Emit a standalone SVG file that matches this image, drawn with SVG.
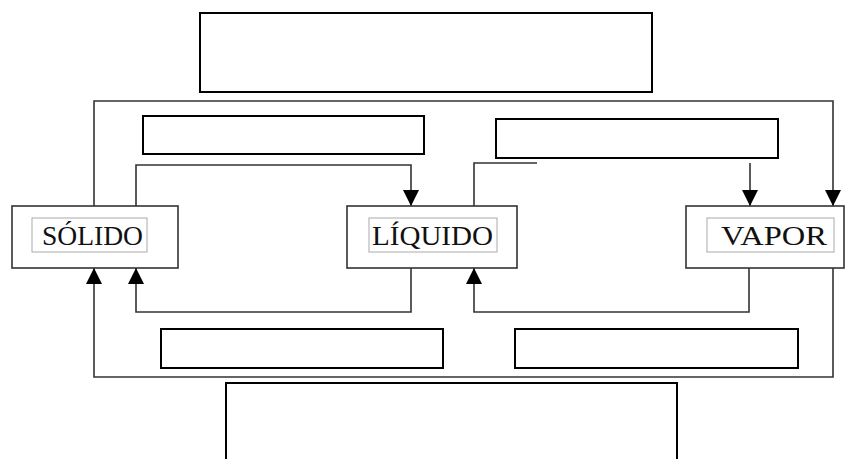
<svg xmlns="http://www.w3.org/2000/svg" width="846" height="459" viewBox="0 0 846 459">
<style>
.node{fill:#fff;stroke:#333;stroke-width:1.6}
.blank{fill:#fff;stroke:#000;stroke-width:2}
.inner{fill:#fff;stroke:#aaa;stroke-width:1}
.lbl{font-family:"Liberation Serif","Times New Roman",serif;font-size:27px;fill:#111}
.con{fill:none;stroke:#333;stroke-width:1.6}
</style>
<defs>
<marker id="ah" markerUnits="userSpaceOnUse" markerWidth="16" markerHeight="16" viewBox="0 0 16 16" refX="16" refY="8" orient="auto">
<path d="M0,0 L16,8 L0,16 Z" fill="#000"/>
</marker>
</defs>
<rect width="846" height="459" fill="#fff"/>
<g id="connectors">
<path class="con" d="M136,206 V165 H411 V206" marker-end="url(#ah)"/>
<path class="con" d="M474,206 V163 H537"/>
<path class="con" d="M750,163 V206" marker-end="url(#ah)"/>
<path class="con" d="M94,206 V101 H833 V206" marker-end="url(#ah)"/>
<path class="con" d="M411,268 V312 H136 V268" marker-end="url(#ah)"/>
<path class="con" d="M749,268 V312 H474 V268" marker-end="url(#ah)"/>
<path class="con" d="M833,268 V377 H94 V268" marker-end="url(#ah)"/>
</g>
<g id="solido">
<rect class="node" x="12" y="206" width="166" height="62"/>
<rect class="inner" x="32" y="218" width="115" height="34"/>
<text class="lbl" x="42" y="245" textLength="101" lengthAdjust="spacingAndGlyphs">SÓLIDO</text>
</g>
<g id="liquido">
<rect class="node" x="347" y="206" width="170" height="62"/>
<rect class="inner" x="369" y="218" width="128" height="34"/>
<text class="lbl" x="372" y="245" textLength="121" lengthAdjust="spacingAndGlyphs">LÍQUIDO</text>
</g>
<g id="vapor">
<rect class="node" x="686" y="206" width="158" height="62"/>
<rect class="inner" x="707" y="218" width="127" height="34"/>
<text class="lbl" x="721" y="245" textLength="106" lengthAdjust="spacingAndGlyphs">VAPOR</text>
</g>
<g id="blank-top"><rect class="blank" x="200" y="13" width="452" height="79"/></g>
<g id="blank-top-left"><rect class="blank" x="143" y="116" width="281" height="38"/></g>
<g id="blank-top-right"><rect class="blank" x="496" y="119" width="282" height="39"/></g>
<g id="blank-bottom-left"><rect class="blank" x="161" y="329" width="282" height="39"/></g>
<g id="blank-bottom-right"><rect class="blank" x="515" y="329" width="283" height="39"/></g>
<g id="blank-bottom"><rect class="blank" x="226" y="383" width="451" height="80"/></g>
</svg>
